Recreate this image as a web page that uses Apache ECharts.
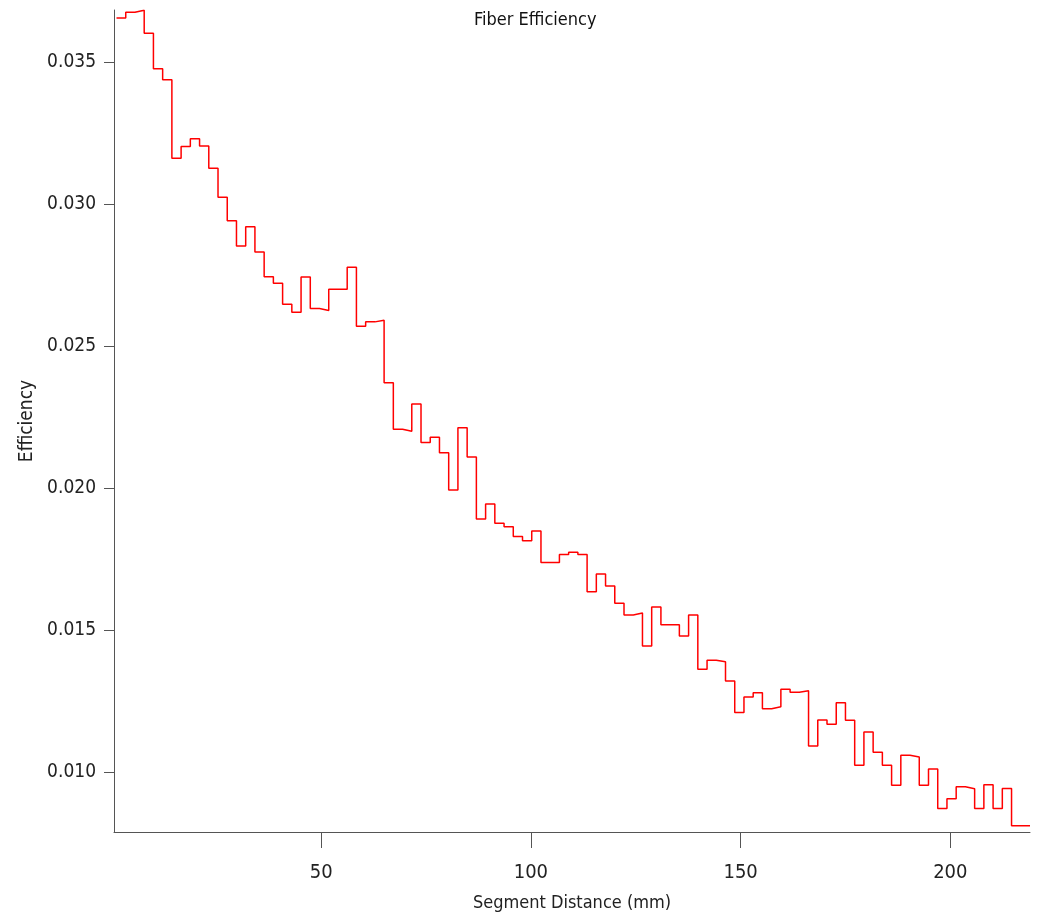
<!DOCTYPE html>
<html>
<head>
<meta charset="utf-8">
<title>Fiber Efficiency</title>
<script src="https://cdn.jsdelivr.net/npm/echarts@6/dist/echarts.min.js"></script>
<style>
  html, body { margin: 0; padding: 0; background: #fff; }
  #chart { width: 1039px; height: 920px; }
</style>
</head>
<body>
<div id="chart"></div>
<script>
// histogram bins: left edge of first bin and bin width (mm)
var binStart = 1.2;
var binWidth = 2.2;

// efficiency per bin
var efficiency = [
  0.03656, 0.03676, 0.03683, 0.03602, 0.03477, 0.03438, 0.03162, 0.03203, 0.03231, 0.03205,
  0.03127, 0.03025, 0.02942, 0.02853, 0.02921, 0.02832, 0.02745, 0.02722, 0.02648, 0.02620,
  0.02744, 0.02633, 0.02626, 0.02701, 0.02701, 0.02778, 0.02571, 0.02586, 0.02592, 0.02372,
  0.02208, 0.02201, 0.02297, 0.02161, 0.02180, 0.02125, 0.01994, 0.02213, 0.02110, 0.01892,
  0.01945, 0.01877, 0.01865, 0.01830, 0.01815, 0.01850, 0.01739, 0.01739, 0.01767, 0.01775,
  0.01767, 0.01636, 0.01698, 0.01656, 0.01595, 0.01554, 0.01561, 0.01445, 0.01582, 0.01520,
  0.01520, 0.01480, 0.01554, 0.01363, 0.01395, 0.01389, 0.01322, 0.01211, 0.01265, 0.01280,
  0.01224, 0.01231, 0.01293, 0.01282, 0.01287, 0.01093, 0.01184, 0.01169, 0.01245, 0.01183,
  0.01025, 0.01142, 0.01071, 0.01025, 0.00955, 0.01060, 0.01054, 0.00955, 0.01012, 0.00873,
  0.00907, 0.00949, 0.00942, 0.00873, 0.00956, 0.00873, 0.00943, 0.00812, 0.00812
];

var xTicks = [50, 100, 150, 200];
var yTicks = [0.010, 0.015, 0.020, 0.025, 0.030, 0.035];

// step points at the bin edges
var points = efficiency.map(function (v, i) {
  return [binStart + i * binWidth, v];
});
points.push([binStart + efficiency.length * binWidth, efficiency[efficiency.length - 1]]);

var font = "'DejaVu Sans Condensed', 'Liberation Sans Narrow', sans-serif";

var chart = echarts.init(document.getElementById('chart'), null, { renderer: 'canvas' });
chart.setOption({
  animation: false,
  backgroundColor: '#ffffff',
  title: {
    text: 'Fiber Efficiency',
    left: 469,
    top: 6,
    textStyle: { fontFamily: font, fontSize: 18, fontWeight: 'normal', color: '#111' }
  },
  grid: { left: 114, right: 9, top: 10, bottom: 88 },
  xAxis: {
    type: 'value',
    min: 0.6,
    max: 219,
    name: 'Segment Distance (mm)',
    nameLocation: 'middle',
    nameGap: 62,
    nameTextStyle: { fontFamily: font, fontSize: 18, color: '#222' },
    splitLine: { show: false },
    axisLine: { lineStyle: { color: '#555', width: 1 } },
    axisTick: { customValues: xTicks, length: 16, lineStyle: { color: '#555' } },
    axisLabel: {
      customValues: xTicks,
      margin: 31,
      fontFamily: font,
      fontSize: 20,
      color: '#222'
    }
  },
  yAxis: {
    type: 'value',
    min: 0.0079,
    max: 0.03684,
    name: 'Efficiency',
    nameLocation: 'middle',
    nameGap: 76,
    nameTextStyle: { fontFamily: font, fontSize: 19, color: '#222' },
    splitLine: { show: false },
    axisLine: { show: true, lineStyle: { color: '#555', width: 1 } },
    axisTick: { show: true, customValues: yTicks, length: 10, lineStyle: { color: '#555' } },
    axisLabel: {
      customValues: yTicks,
      margin: 18,
      fontFamily: font,
      fontSize: 19,
      color: '#222',
      formatter: function (v) { return v.toFixed(3); }
    }
  },
  series: [{
    type: 'line',
    step: 'end',
    data: points,
    showSymbol: false,
    lineStyle: { color: '#ff0000', width: 1.5 }
  }]
});
</script>
</body>
</html>
